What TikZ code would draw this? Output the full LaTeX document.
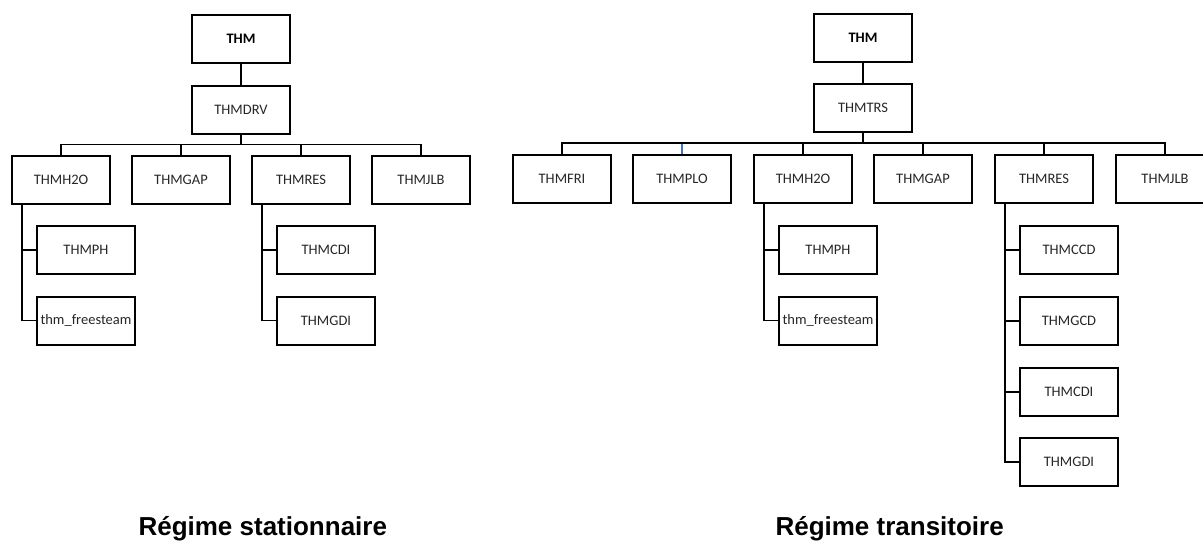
\documentclass[tikz,border=0pt]{standalone}
\usepackage{fontspec}
\setmainfont{Carlito}
\newfontfamily\capfont{Liberation Sans}
\usetikzlibrary{positioning}
\definecolor{plolink}{RGB}{68,114,196}

\begin{document}
\begin{tikzpicture}[x=1pt,y=1pt,box/.style={draw,line width=2pt,minimum width=98pt,minimum height=48pt,inner sep=1pt,font=\fontsize{14.5}{16}\selectfont,text=black!85},top/.style={box,font=\fontsize{14.5}{16}\selectfont\bfseries,text=black},link/.style={line width=1.3pt},caption/.style={font=\capfont\bfseries\fontsize{26}{30}\selectfont}]
  \useasboundingbox (0,0) rectangle (1203,-542);
  % regime stationnaire
  \node[top] (thmL) at (241,-39) {THM};
  \node[box] (drvL) at (241,-109.5) {THMDRV};
  \node[box] (h2oL) at (61,-179.5) {THMH2O};
  \node[box] (gapL) at (181,-179.5) {THMGAP};
  \node[box] (resL) at (301,-179.5) {THMRES};
  \node[box] (jlbL) at (421,-179.5) {THMJLB};
  \node[box] (phL) at (86,-250) {THMPH};
  \node[box] (fsL) at (86,-320.5) {thm\_freesteam};
  \node[box] (cdiL) at (326,-250) {THMCDI};
  \node[box] (gdiL) at (326,-320.5) {THMGDI};
  \draw[link] (thmL) -- (drvL);
  \draw[link] (drvL.south) -- ++(0,-10) -| (h2oL.north);
  \draw[link] (drvL.south) -- ++(0,-10) -| (gapL.north);
  \draw[link] (drvL.south) -- ++(0,-10) -| (resL.north);
  \draw[link] (drvL.south) -- ++(0,-10) -| (jlbL.north);
  \draw[link] (h2oL.south west) ++(11,0) |- (phL.west);
  \draw[link] (h2oL.south west) ++(11,0) |- (fsL.west);
  \draw[link] (resL.south west) ++(11,0) |- (cdiL.west);
  \draw[link] (resL.south west) ++(11,0) |- (gdiL.west);
  \node[caption,anchor=base west] (capL) at (135,-535) {Régime stationnaire};
  % regime transitoire
  \node[top] (thmR) at (863,-37.5) {THM};
  \node[box] (trsR) at (863,-108) {THMTRS};
  \node[box] (friR) at (562,-179) {THMFRI};
  \node[box] (ploR) at (682,-179) {THMPLO};
  \node[box] (h2oR) at (803,-179) {THMH2O};
  \node[box] (gapR) at (923,-179) {THMGAP};
  \node[box] (resR) at (1044,-179) {THMRES};
  \node[box] (jlbR) at (1165,-179) {THMJLB};
  \node[box] (phR) at (828,-250) {THMPH};
  \node[box] (fsR) at (828,-320.5) {thm\_freesteam};
  \node[box] (ccdR) at (1069,-250) {THMCCD};
  \node[box] (gcdR) at (1069,-321) {THMGCD};
  \node[box] (cdiR) at (1069,-392) {THMCDI};
  \node[box] (gdiR) at (1069,-462) {THMGDI};
  \draw[link] (thmR) -- (trsR);
  \draw[link,plolink] (ploR.north) -- ++(0,10.5);
  \draw[link] (trsR.south) -- ++(0,-10) -| (friR.north);
  \draw[link] (trsR.south) -- ++(0,-10) -| (h2oR.north);
  \draw[link] (trsR.south) -- ++(0,-10) -| (gapR.north);
  \draw[link] (trsR.south) -- ++(0,-10) -| (resR.north);
  \draw[link] (trsR.south) -- ++(0,-10) -| (jlbR.north);
  \draw[link] (h2oR.south west) ++(11,0) |- (phR.west);
  \draw[link] (h2oR.south west) ++(11,0) |- (fsR.west);
  \draw[link] (resR.south west) ++(11,0) |- (ccdR.west);
  \draw[link] (resR.south west) ++(11,0) |- (gcdR.west);
  \draw[link] (resR.south west) ++(11,0) |- (cdiR.west);
  \draw[link] (resR.south west) ++(11,0) |- (gdiR.west);
  \node[caption,anchor=base west] (capR) at (772,-535) {Régime transitoire};
\end{tikzpicture}
\end{document}
